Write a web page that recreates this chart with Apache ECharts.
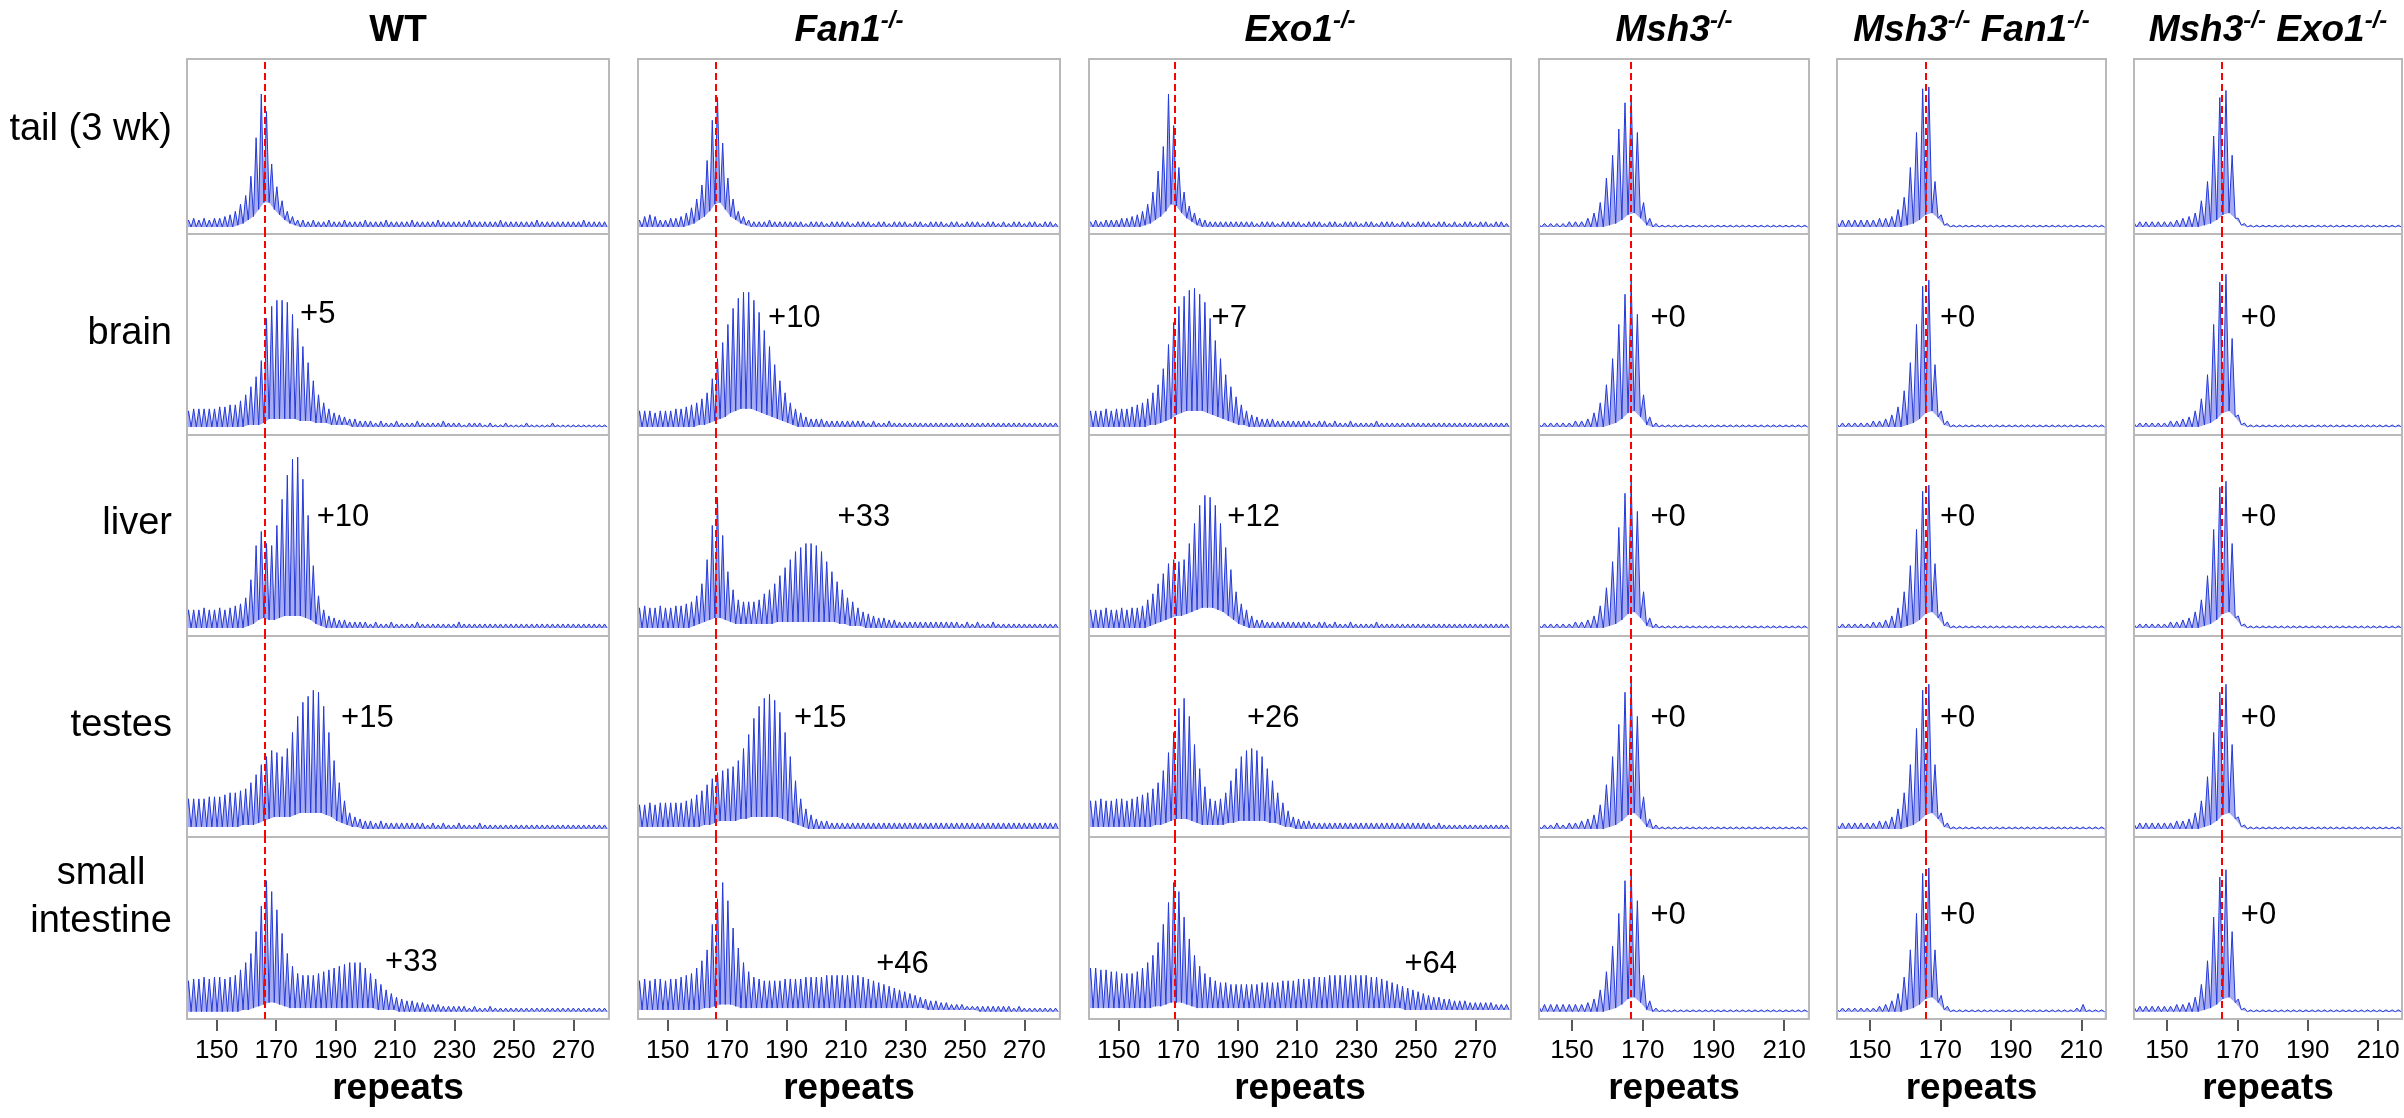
<!DOCTYPE html>
<html>
<head>
<meta charset="utf-8">
<script src="https://cdn.jsdelivr.net/npm/echarts@6/dist/echarts.min.js"></script>
<style>
  html, body { margin: 0; background: #fff; }
  #chart { width: 2404px; height: 1118px; }
</style>
</head>
<body>
<div id="chart"></div>
<script>
// ---- data (peak heights / valley heights in % of panel height, one value per peak) ----
const tissues = ['tail (3 wk)', 'brain', 'liver', 'testes', 'small\nintestine'];
const peakStart = 140.5;   // repeat of first peak
const peakStep = 1.75;     // repeats between peaks
const wideTicks = [150, 170, 190, 210, 230, 250, 270];
const narrowTicks = [150, 170, 190, 210];
const refRepeat = [166, 166, 169, 166.5, 166, 165.6];

const wtShift = ['', '+5', '+10', '+15', '+33'];
const fan1Shift = ['', '+10', '+33', '+15', '+46'];
const exo1Shift = ['', '+7', '+12', '+26', '+64'];
const msh3Shift = ['', '+0', '+0', '+0', '+0'];
const msh3Fan1Shift = ['', '+0', '+0', '+0', '+0'];
const msh3Exo1Shift = ['', '+0', '+0', '+0', '+0'];

const wtPeaks = [
  [8,9,8,9,8,9,9,10,11,13, 17,22,33,55,80,70,40,27,19,13, 10,8,8,7,8,7,7,8,7,7, 8,7,7,7,8,7,7,7,8,7, 7,7,7,8,7,7,7,7,8,7, 7,7,7,7,8,7,7,7,7,7, 8,7,7,7,7,7,7,8,7,7, 7,7,7,7,7,7,8,7,7,7, 7],
  [12,13,13,13,13,13,14,14,15,15, 17,20,24,29,37,58,64,67,67,66, 60,53,44,36,27,20,16,13,11,10, 9,8,8,7,7,7,6,7,6,6, 7,6,6,6,7,6,6,6,6,7, 6,6,6,5,6,6,6,5,6,5, 5,6,5,5,5,6,5,5,5,5, 6,5,5,5,5,5,5,5,5,5, 5],
  [13,13,13,14,13,13,14,13,14,15, 16,19,28,45,52,46,45,55,68,80, 88,89,78,60,35,20,13,10,9,8, 8,7,7,7,7,6,7,6,6,7, 6,6,6,6,7,6,6,6,6,6, 6,6,7,6,6,6,6,6,6,6, 6,6,6,6,6,6,6,6,6,6, 6,6,6,6,6,6,6,6,6,6, 6],
  [19,19,19,19,20,20,20,21,22,22, 23,24,27,31,36,40,43,42,40,44, 52,60,67,70,73,72,65,52,38,27, 18,12,10,9,8,8,7,8,7,7, 7,7,7,7,7,7,6,7,6,7, 6,6,7,6,6,6,7,6,6,6, 6,6,6,6,6,6,6,6,6,6, 6,6,6,6,6,6,6,6,6,6, 6],
  [21,22,22,23,22,23,23,22,23,24, 27,31,36,48,62,76,70,60,47,36, 29,25,24,24,24,25,26,27,28,29, 30,31,31,31,28,25,22,19,16,14, 12,11,10,10,9,9,8,8,8,7, 7,7,7,7,6,7,6,6,7,6, 6,6,6,6,6,6,6,6,6,6, 6,6,6,6,6,6,6,6,6,6, 6]
];
const wtValleys = [
  [4,4,4,4,4,4,4,4,4,5, 6,8,10,14,18,18,14,11,8,6, 5,4,4,4,4,4,4,4,4,4, 4,4,4,4,4,4,4,4,4,4, 4,4,4,4,4,4,4,4,4,4, 4,4,4,4,4,4,4,4,4,4, 4,4,4,4,4,4,4,4,4,4, 4,4,4,4,4,4,4,4,4,4, 4],
  [4,4,4,4,4,4,4,4,4,4, 4,5,5,5,6,8,8,8,8,8, 8,7,7,7,6,6,6,5,5,5, 5,4,4,4,4,4,4,4,4,4, 4,4,4,4,4,4,4,4,4,4, 4,4,4,4,4,4,4,4,4,4, 4,4,4,4,4,4,4,4,4,4, 4,4,4,4,4,4,4,4,4,4, 4],
  [4,4,4,4,4,4,4,4,4,4, 4,5,6,8,9,8,8,9,10,10, 10,10,9,8,6,5,4,4,4,4, 4,4,4,4,4,4,4,4,4,4, 4,4,4,4,4,4,4,4,4,4, 4,4,4,4,4,4,4,4,4,4, 4,4,4,4,4,4,4,4,4,4, 4,4,4,4,4,4,4,4,4,4, 4],
  [5,5,5,5,5,5,5,5,5,5, 6,6,6,7,8,9,10,10,10,10, 11,12,12,12,12,12,11,10,8,7, 6,5,5,4,4,4,4,4,4,4, 4,4,4,4,4,4,4,4,4,4, 4,4,4,4,4,4,4,4,4,4, 4,4,4,4,4,4,4,4,4,4, 4,4,4,4,4,4,4,4,4,4, 4],
  [4,4,4,4,4,4,4,4,4,4, 5,5,6,7,8,9,9,8,7,6, 6,6,6,6,6,6,6,6,6,6, 6,6,6,6,6,6,5,5,5,5, 4,4,4,4,4,4,4,4,4,4, 4,4,4,4,4,4,4,4,4,4, 4,4,4,4,4,4,4,4,4,4, 4,4,4,4,4,4,4,4,4,4, 4]
];

const fan1Peaks = [
  [8,10,11,10,8,8,9,9,10,12, 15,20,28,42,65,78,52,32,20,13, 10,8,7,7,7,8,7,7,7,7, 7,7,6,7,7,7,6,7,7,7, 7,6,7,7,7,6,7,7,6,7, 7,7,6,7,7,6,7,7,7,6, 7,7,6,7,7,7,6,7,7,6, 7,6,7,7,6,7,7,6,7,7, 6],
  [12,12,12,11,12,12,12,13,13,14, 15,16,18,21,28,38,46,55,63,68, 71,71,67,61,52,44,35,27,21,16, 13,11,9,8,8,8,7,7,7,7, 7,7,7,7,6,7,6,6,7,6, 6,6,6,6,6,6,6,6,6,6, 6,6,6,6,6,6,6,6,6,6, 6,6,6,6,6,6,6,6,6,6, 6],
  [14,15,14,14,15,14,14,15,15,16, 17,20,26,38,55,69,50,32,23,18, 17,17,17,18,21,23,26,30,34,38, 42,44,46,46,45,42,37,32,27,23, 19,17,14,12,11,10,9,9,8,8, 7,7,7,7,7,7,7,7,7,7, 7,7,6,7,6,7,6,6,7,6, 6,6,6,6,6,6,6,6,6,6, 6],
  [16,16,17,16,17,17,17,17,17,18, 19,21,23,26,29,32,33,34,35,38, 44,51,59,65,69,71,68,62,52,40, 28,19,14,11,9,8,8,7,7,7, 7,7,7,7,7,7,7,7,7,7, 7,7,7,7,7,7,7,7,7,7, 7,7,7,7,7,7,7,7,7,7, 7,7,7,7,7,7,7,7,7,7, 7],
  [21,22,21,22,22,21,22,22,23,24, 25,28,32,38,52,66,75,65,50,39, 31,26,23,22,21,21,21,21,22,22, 22,22,23,23,23,23,24,24,24,24, 24,24,24,23,22,21,20,19,18,17, 16,15,14,13,12,11,10,10,9,9, 8,8,8,7,7,7,7,7,7,7, 7,7,6,7,6,6,6,6,6,6, 6]
];
const fan1Valleys = [
  [4,4,4,4,4,4,4,4,4,5, 6,8,10,13,17,18,14,10,8,6, 5,4,4,4,4,4,4,4,4,4, 4,4,4,4,4,4,4,4,4,4, 4,4,4,4,4,4,4,4,4,4, 4,4,4,4,4,4,4,4,4,4, 4,4,4,4,4,4,4,4,4,4, 4,4,4,4,4,4,4,4,4,4, 4],
  [4,4,4,4,4,4,4,4,4,4, 4,5,5,6,7,8,9,11,12,13, 13,13,12,11,10,9,8,7,6,5, 4,4,4,4,4,4,4,4,4,4, 4,4,4,4,4,4,4,4,4,4, 4,4,4,4,4,4,4,4,4,4, 4,4,4,4,4,4,4,4,4,4, 4,4,4,4,4,4,4,4,4,4, 4],
  [4,4,4,4,4,4,4,4,4,4, 5,6,7,8,9,9,8,7,6,6, 6,6,6,6,6,6,7,7,7,7, 7,7,7,7,7,7,7,7,6,6, 5,5,5,4,4,4,4,4,4,4, 4,4,4,4,4,4,4,4,4,4, 4,4,4,4,4,4,4,4,4,4, 4,4,4,4,4,4,4,4,4,4, 4],
  [5,5,5,5,5,5,5,5,5,5, 5,5,6,6,7,8,8,8,8,9, 9,10,10,10,10,10,10,9,8,7, 6,5,4,4,4,4,4,4,4,4, 4,4,4,4,4,4,4,4,4,4, 4,4,4,4,4,4,4,4,4,4, 4,4,4,4,4,4,4,4,4,4, 4,4,4,4,4,4,4,4,4,4, 4],
  [5,5,5,5,5,5,5,5,5,5, 5,5,6,6,7,8,8,8,7,6, 6,6,6,6,6,6,6,6,6,6, 6,6,6,6,6,6,6,6,6,6, 6,6,6,6,6,6,6,6,6,6, 6,6,6,6,6,5,5,5,5,5, 5,5,5,5,5,4,4,4,4,4, 4,4,4,4,4,4,4,4,4,4, 4]
];

const exo1Peaks = [
  [7,8,7,8,8,8,9,9,10,11, 13,17,24,36,50,80,62,38,24,16, 12,9,8,7,7,7,7,7,7,7, 7,7,6,7,7,7,6,7,7,7, 7,6,7,7,7,6,7,7,6,7, 7,7,6,7,7,6,7,7,7,6, 7,7,6,7,7,7,6,7,7,6, 7,6,7,7,6,7,7,6,7,7, 6],
  [12,12,12,13,12,13,13,13,14,15, 16,18,21,25,33,45,56,64,69,72, 73,70,66,58,47,38,30,24,19,15, 12,10,9,8,8,8,7,7,7,7, 7,7,7,6,7,7,6,7,6,6, 7,6,6,6,6,7,6,6,6,6, 6,6,6,6,6,6,6,6,6,6, 6,6,6,6,6,6,6,6,6,6, 6],
  [13,13,13,14,13,13,14,13,14,14, 15,18,21,26,31,36,38,37,38,46, 56,65,70,69,65,56,44,33,22,16, 13,10,8,8,7,7,7,7,7,7, 7,7,7,6,7,7,6,7,6,6, 7,6,6,6,6,7,6,6,6,6, 6,6,6,6,6,6,6,6,6,6, 6,6,6,6,6,6,6,6,6,6, 6],
  [18,18,19,18,18,19,19,18,19,20, 21,22,24,27,33,42,52,64,69,60, 46,34,25,19,18,19,22,28,34,40, 43,44,43,40,34,28,22,17,13,10, 9,8,8,7,7,7,7,7,7,7, 7,7,7,7,7,7,7,7,7,7, 7,7,7,7,7,7,6,7,6,6, 6,6,6,6,6,6,6,6,6,6, 6],
  [28,28,27,27,26,26,25,25,25,26, 28,31,35,42,52,64,75,70,56,44, 35,29,25,23,21,20,20,19,19,19, 19,19,19,20,20,20,20,21,21,21, 22,22,22,23,23,23,24,24,24,24, 24,24,24,24,23,23,22,21,20,19, 18,17,16,15,14,13,12,12,11,11, 10,10,10,9,9,9,9,9,8,8, 8]
];
const exo1Valleys = [
  [4,4,4,4,4,4,4,4,4,4, 5,6,8,10,13,17,16,12,9,7, 5,4,4,4,4,4,4,4,4,4, 4,4,4,4,4,4,4,4,4,4, 4,4,4,4,4,4,4,4,4,4, 4,4,4,4,4,4,4,4,4,4, 4,4,4,4,4,4,4,4,4,4, 4,4,4,4,4,4,4,4,4,4, 4],
  [4,4,4,4,4,4,4,4,4,4, 4,5,5,6,7,8,10,11,12,12, 12,12,11,10,9,8,7,6,5,5, 4,4,4,4,4,4,4,4,4,4, 4,4,4,4,4,4,4,4,4,4, 4,4,4,4,4,4,4,4,4,4, 4,4,4,4,4,4,4,4,4,4, 4,4,4,4,4,4,4,4,4,4, 4],
  [4,4,4,4,4,4,4,4,4,4, 4,5,6,7,8,9,10,10,11,12, 13,14,14,14,13,12,10,8,6,5, 4,4,4,4,4,4,4,4,4,4, 4,4,4,4,4,4,4,4,4,4, 4,4,4,4,4,4,4,4,4,4, 4,4,4,4,4,4,4,4,4,4, 4,4,4,4,4,4,4,4,4,4, 4],
  [5,5,5,5,5,5,5,5,5,5, 5,5,6,6,7,8,9,9,9,8, 7,6,6,6,6,6,7,7,8,8, 8,8,8,8,7,7,6,5,5,4, 4,4,4,4,4,4,4,4,4,4, 4,4,4,4,4,4,4,4,4,4, 4,4,4,4,4,4,4,4,4,4, 4,4,4,4,4,4,4,4,4,4, 4],
  [6,6,6,6,6,6,6,6,6,6, 6,6,7,7,8,9,9,9,8,7, 6,6,6,6,6,6,6,6,6,6, 6,6,6,6,6,6,6,6,6,6, 6,6,6,6,6,6,6,6,6,6, 6,6,6,6,6,6,6,6,6,6, 5,5,5,5,5,5,5,5,5,5, 5,5,5,5,5,5,5,5,5,5, 5]
];

const msh3Peaks = [
  [6,6,6,6,6,7,7,7,9,12, 18,32,45,60,75,79,58,18,9,6, 5,5,5,5,5,5,5,5,5,5, 5,5,5,5,5,5,5,5,5,5, 5,5,5,5],
  [6,6,6,6,6,6,7,7,8,11, 16,25,38,55,70,77,60,20,9,6, 5,5,5,5,5,5,5,5,5,5, 5,5,5,5,5,5,5,5,5,5, 5,5,5,5],
  [6,6,6,6,6,6,7,7,8,10, 15,24,37,54,71,77,62,22,9,6, 5,5,5,5,5,5,5,5,5,5, 5,5,5,5,5,5,5,5,5,5, 5,5,5,5],
  [6,6,6,7,6,7,7,8,9,11, 16,26,40,56,72,77,60,20,9,6, 5,5,5,5,5,5,5,5,5,5, 5,5,5,5,5,5,5,5,5,5, 5,5,5,5],
  [8,8,8,8,8,8,8,8,9,11, 16,26,40,58,76,82,65,24,10,6, 5,5,5,5,5,5,5,5,5,5, 5,5,5,5,5,5,5,5,5,5, 5,5,5,5]
];
const msh3Fan1Peaks = [
  [8,8,8,8,8,8,8,9,9,10, 14,21,38,58,83,84,30,11,6,5, 5,5,5,5,5,5,5,5,5,5, 5,5,5,5,5,5,5,5,5,5, 5,5,5,5],
  [6,6,6,6,6,6,7,7,8,10, 14,22,36,55,74,77,35,12,7,5, 5,5,5,5,5,5,5,5,5,5, 5,5,5,5,5,5,5,5,5,5, 5,5,5,5],
  [6,6,6,6,6,6,7,7,8,10, 14,22,35,53,72,75,36,12,7,5, 5,5,5,5,5,5,5,5,5,5, 5,5,5,5,5,5,5,5,5,5, 5,5,5,5],
  [7,7,7,7,7,7,7,8,8,10, 14,22,36,54,73,76,36,12,7,5, 5,5,5,5,5,5,5,5,5,5, 5,5,5,5,5,5,5,5,5,5, 5,5,5,5],
  [6,6,6,6,6,6,6,7,8,10, 14,23,38,58,80,83,38,13,7,5, 5,5,5,5,5,5,5,5,5,5, 5,5,5,5,5,5,5,5,5,6, 8,5,5,5]
];
const msh3Exo1Peaks = [
  [7,7,7,7,7,7,7,8,9,10, 12,19,30,56,78,82,45,9,6,5, 5,5,5,5,5,5,5,5,5,5, 5,5,5,5,5,5,5,5,5,5, 5,5,5,5],
  [6,6,6,6,6,6,7,7,8,9, 12,18,30,55,76,80,48,10,6,5, 5,5,5,5,5,5,5,5,5,5, 5,5,5,5,5,5,5,5,5,5, 5,5,5,5],
  [6,6,6,6,6,6,7,7,8,9, 12,18,30,53,74,77,46,10,6,5, 5,5,5,5,5,5,5,5,5,5, 5,5,5,5,5,5,5,5,5,5, 5,5,5,5],
  [7,7,7,7,7,7,7,8,8,9, 12,18,30,52,72,76,46,10,6,5, 5,5,5,5,5,5,5,5,5,5, 5,5,5,5,5,5,5,5,5,5, 5,5,5,5],
  [7,7,7,7,7,7,7,8,8,9, 12,19,32,56,78,82,48,11,6,5, 5,5,5,5,5,5,5,5,5,5, 5,5,5,5,5,5,5,5,5,5, 5,5,5,5]
];
// the Msh3 traces share one valley profile
const msh3Valleys = [4,4,4,4,4,4,4,4,4,4, 4,5,6,8,11,12,9,5,4,4, 4,4,4,4,4,4,4,4,4,4, 4,4,4,4,4,4,4,4,4,4, 4,4,4,4];

// ---- layout ----
const FONT = 'Liberation Sans, Arial, sans-serif';
const traceColor = '#2439d8';
const fillColor = '#a6acef';
const colLayout = [[187, 422], [638, 422], [1089, 422], [1539, 270], [1837, 269], [2134, 268]];
const rowLayout = [[59, 175], [234, 201], [435, 201], [636, 201], [837, 182]];
const xRanges = [[140, 282], [140, 282], [140, 282], [140.7, 217], [140.7, 217], [140.6, 216.8]];

const columns = [
  { title: '{b|WT}', peaks: wtPeaks, valleys: wtValleys, shift: wtShift, ticks: wideTicks },
  { title: '{i|Fan1}{s|-/-}', peaks: fan1Peaks, valleys: fan1Valleys, shift: fan1Shift, ticks: wideTicks },
  { title: '{i|Exo1}{s|-/-}', peaks: exo1Peaks, valleys: exo1Valleys, shift: exo1Shift, ticks: wideTicks },
  { title: '{i|Msh3}{s|-/-}', peaks: msh3Peaks, valleys: [msh3Valleys, msh3Valleys, msh3Valleys, msh3Valleys, msh3Valleys], shift: msh3Shift, ticks: narrowTicks },
  { title: '{i|Msh3}{s|-/-}{i| Fan1}{s|-/-}', peaks: msh3Fan1Peaks, valleys: [msh3Valleys, msh3Valleys, msh3Valleys, msh3Valleys, msh3Valleys], shift: msh3Fan1Shift, ticks: narrowTicks },
  { title: '{i|Msh3}{s|-/-}{i| Exo1}{s|-/-}', peaks: msh3Exo1Peaks, valleys: [msh3Valleys, msh3Valleys, msh3Valleys, msh3Valleys, msh3Valleys], shift: msh3Exo1Shift, ticks: narrowTicks }
];
// where the shift labels sit, in [repeats, % height]
const labelAt = [
  [null, [184, 60], [192.5, 59], [200.7, 59], [215.5, 31]],
  [null, [192.6, 58], [216, 59], [201.3, 59], [229, 30]],
  [null, [187.2, 58], [195.4, 59], [202, 59], [255, 30]],
  [null, [177.2, 58], [177.2, 59], [177.2, 59], [177.2, 57]],
  [null, [174.9, 58], [174.9, 59], [174.9, 59], [174.9, 57]],
  [null, [176, 58], [176, 59], [176, 59], [176, 57]]
];

function tracePoints(peaks, valleys) {
  const pts = [[peakStart - peakStep / 2, valleys[0]]];
  peaks.forEach(function (p, i) {
    const x = peakStart + i * peakStep;
    pts.push([x, p]);
    pts.push([x + peakStep / 2, valleys[i]]);
  });
  return pts;
}
function valleyPoints(peaks, valleys) {
  const pts = [[peakStart - peakStep / 2, valleys[0]]];
  peaks.forEach(function (p, i) {
    pts.push([peakStart + (i + 0.5) * peakStep, valleys[i]]);
  });
  return pts;
}

const titleRich = {
  b: { fontSize: 37, fontWeight: 'bold', fontFamily: FONT, fill: '#000', color: '#000', lineHeight: 44 },
  i: { fontSize: 37, fontWeight: 'bold', fontStyle: 'italic', fontFamily: FONT, fill: '#000', color: '#000', lineHeight: 44 },
  s: { fontSize: 24, fontWeight: 'bold', fontStyle: 'italic', fontFamily: FONT, fill: '#000', color: '#000', lineHeight: 24, verticalAlign: 'top' }
};

const option = {
  animation: false,
  backgroundColor: '#fff',
  textStyle: { fontFamily: FONT },
  grid: [], xAxis: [], yAxis: [], series: [], graphic: []
};

columns.forEach(function (col, c) {
  const [left, width] = colLayout[c];
  option.graphic.push({
    type: 'text', x: left + width / 2, y: 31,
    style: { text: col.title, rich: titleRich, align: 'center', verticalAlign: 'middle' }
  });
  rowLayout.forEach(function (row, r) {
    const k = option.grid.length;
    const isBottom = r === rowLayout.length - 1;
    option.grid.push({
      left: left, top: row[0], width: width, height: row[1],
      show: true, borderColor: '#b9b9b9', borderWidth: 2, backgroundColor: 'transparent', z: 4
    });
    option.xAxis.push({
      gridIndex: k, type: 'value', min: xRanges[c][0], max: xRanges[c][1],
      show: isBottom,
      axisLine: { show: false },
      axisTick: { show: true, customValues: col.ticks, length: 12, lineStyle: { color: '#222', width: 1.5 } },
      axisLabel: { show: true, customValues: col.ticks, fontSize: 26, color: '#000', margin: 19 },
      splitLine: { show: false },
      name: 'repeats', nameLocation: 'middle', nameGap: 51,
      nameTextStyle: { fontSize: 37, fontWeight: 'bold', color: '#000' }
    });
    option.yAxis.push({ gridIndex: k, type: 'value', min: 0, max: 100, show: false });

    const peaks = col.peaks[r];
    const valleys = col.valleys[r];
    const trace = tracePoints(peaks, valleys);
    option.series.push({
      type: 'line', xAxisIndex: k, yAxisIndex: k, data: trace, symbol: 'none', silent: true,
      lineStyle: { width: 0, opacity: 0 }, areaStyle: { color: fillColor, opacity: 1 }, z: 1
    });
    option.series.push({
      type: 'line', xAxisIndex: k, yAxisIndex: k, data: valleyPoints(peaks, valleys), symbol: 'none', silent: true,
      lineStyle: { width: 0, opacity: 0 }, areaStyle: { color: '#fff', opacity: 1 }, z: 2
    });
    const s = {
      type: 'line', xAxisIndex: k, yAxisIndex: k, data: trace, symbol: 'none', silent: true,
      lineStyle: { color: traceColor, width: 1 }, z: 3,
      markLine: {
        silent: true, symbol: 'none', z: 6, animation: false,
        label: { show: false },
        lineStyle: { color: '#ff0000', type: [7, 4], width: 2 },
        data: [{ xAxis: refRepeat[c] }]
      }
    };
    if (col.shift[r]) {
      s.markPoint = {
        silent: true, symbol: 'circle', symbolSize: 1, z: 7,
        itemStyle: { color: 'rgba(0,0,0,0)' },
        label: { show: true, position: 'inside', formatter: col.shift[r], fontSize: 31, color: '#000' },
        data: [{ coord: labelAt[c][r] }]
      };
    }
    option.series.push(s);
  });
});

// tissue labels on the left
const rowLabelY = [130, 334, 524, 726, 898];
tissues.forEach(function (t, r) {
  const multi = t.indexOf('\n') >= 0;
  option.graphic.push({
    type: 'text', x: multi ? 101 : 172, y: rowLabelY[r],
    style: {
      text: t, font: '38px ' + FONT, fill: '#000',
      align: multi ? 'center' : 'right', verticalAlign: 'middle', lineHeight: 48
    }
  });
});

const chart = echarts.init(document.getElementById('chart'), null, { renderer: 'canvas' });
chart.setOption(option);
</script>
</body>
</html>
